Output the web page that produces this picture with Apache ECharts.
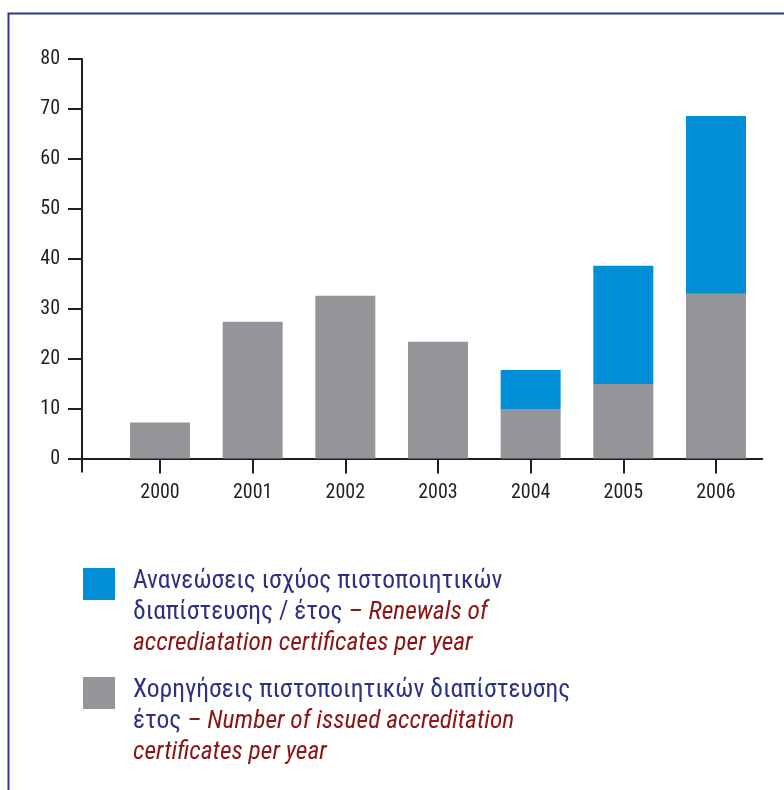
<!DOCTYPE html>
<html>
<head>
<meta charset="utf-8">
<script src="https://cdn.jsdelivr.net/npm/echarts@6/dist/echarts.min.js"></script>
<style>html,body{margin:0;padding:0;background:#fff}#c{width:784px;height:790px}</style>
</head>
<body>
<div id="c"></div>
<script>
var years = ['2000', '2001', '2002', '2003', '2004', '2005', '2006'];
var issued = [7.2, 27.4, 32.6, 23.4, 9.9, 14.9, 33.0];
var renewals = [null, null, null, null, 7.8, 23.7, 35.6];
var yTicks = { min: 0, max: 80, interval: 10 };

var nameRenew = 'Ανανεώσεις ισχύος πιστοποιητικών διαπίστευσης / έτος – Renewals of accrediatation certificates per year';
var nameIssued = 'Χορηγήσεις πιστοποιητικών διαπίστευσης έτος – Number of issued accreditation certificates per year';

var FONT = "'Liberation Sans Narrow', 'Roboto Condensed', 'DejaVu Sans Condensed', 'Liberation Sans', sans-serif";
var INK = '#231f20';
var NAVY = '#2d3184';
var RED = '#8a1616';
var BLUE = '#008fd5';
var GRAY = '#949599';

var rich = {
  g: { color: NAVY, fontSize: 25.5, lineHeight: 31, fontFamily: FONT },
  e: { color: RED, fontSize: 25.5, lineHeight: 31, fontStyle: 'italic', fontFamily: FONT }
};

function legendText(name) {
  if (name === nameRenew) {
    return '{g|Ανανεώσεις ισχύος πιστοποιητικών}\n{g|διαπίστευσης / έτος }{e|– Renewals of}\n{e|accrediatation certificates per year}';
  }
  return '{g|Χορηγήσεις πιστοποιητικών διαπίστευσης}\n{g|έτος }{e|– Number of issued accreditation}\n{e|certificates per year}';
}

var chart = echarts.init(document.getElementById('c'), null, { renderer: 'canvas' });
chart.setOption({
  animation: false,
  backgroundColor: '#fff',
  graphic: [{
    type: 'rect', left: 6, top: 11, z: -1,
    shape: { width: 800, height: 800 },
    style: { fill: 'none', stroke: '#30358f', lineWidth: 2 }
  }],
  grid: [
    { left: 82, right: 21.7, top: 59, bottom: 331.5 },
    { left: 113.67, right: 21.7, top: 59, bottom: 331.5 }
  ],
  xAxis: [
    {
      gridIndex: 0, type: 'value', min: 0, max: 1,
      axisLine: { show: true, lineStyle: { color: INK, width: 2 } },
      axisTick: { show: true, length: 14, customValues: [0], lineStyle: { color: INK, width: 2 } },
      axisLabel: { show: false },
      splitLine: { show: false }
    },
    {
      gridIndex: 1, type: 'category', data: years,
      axisLine: { show: false },
      axisTick: { show: true, alignWithLabel: true, length: 15, lineStyle: { color: INK, width: 2 } },
      axisLabel: { margin: 24, fontSize: 20, color: INK, fontFamily: FONT },
      splitLine: { show: false }
    }
  ],
  yAxis: [
    {
      gridIndex: 0, type: 'value', min: yTicks.min, max: yTicks.max, interval: yTicks.interval,
      axisLine: { show: true, lineStyle: { color: INK, width: 2 } },
      axisTick: { show: true, length: 14, lineStyle: { color: INK, width: 2 } },
      axisLabel: { margin: 22, fontSize: 20, color: INK, fontFamily: FONT },
      splitLine: { show: false }
    },
    {
      gridIndex: 1, type: 'value', min: yTicks.min, max: yTicks.max, interval: yTicks.interval,
      show: false, splitLine: { show: false }
    }
  ],
  legend: [
    {
      data: [nameRenew], left: 83, top: 568, padding: 0,
      icon: 'rect', itemWidth: 32, itemHeight: 32, itemGap: 0, selectedMode: false,
      formatter: legendText,
      textStyle: { rich: rich, padding: [58, 0, 0, 13] }
    },
    {
      data: [nameIssued], left: 83, top: 677, padding: 0,
      icon: 'rect', itemWidth: 32, itemHeight: 32, itemGap: 0, selectedMode: false,
      formatter: legendText,
      textStyle: { rich: rich, padding: [58, 0, 0, 13] }
    }
  ],
  series: [
    {
      name: nameIssued, type: 'bar', stack: 'total', xAxisIndex: 1, yAxisIndex: 1,
      data: issued, barWidth: 60, itemStyle: { color: GRAY }, z: 1
    },
    {
      name: nameRenew, type: 'bar', stack: 'total', xAxisIndex: 1, yAxisIndex: 1,
      data: renewals, barWidth: 60, itemStyle: { color: BLUE }, z: 1
    }
  ]
});
</script>
</body>
</html>
